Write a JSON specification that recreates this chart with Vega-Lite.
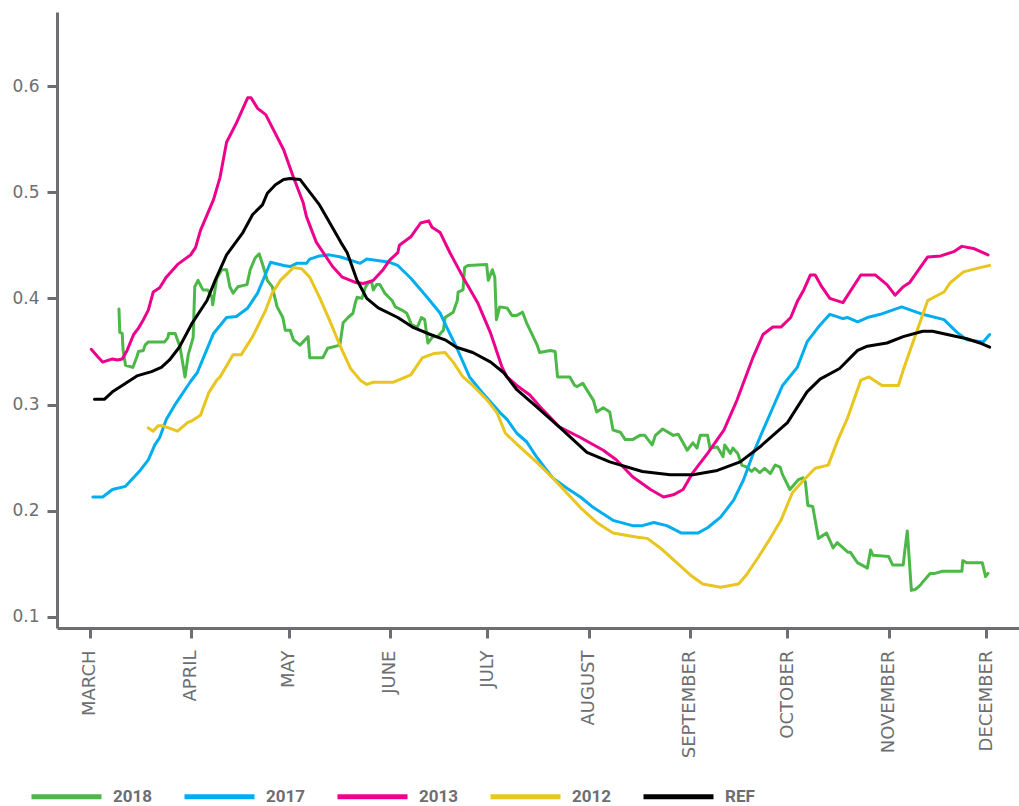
{
  "$schema": "https://vega.github.io/schema/vega-lite/v6.json",
  "width": 962,
  "height": 616,
  "autosize": "none",
  "padding": {"left": 57, "top": 12, "right": 0, "bottom": 178},
  "background": "white",
  "config": {"view": {"stroke": null}},
  "data": {"values": [
    {"series":"2018","date":"2018-03-10T00:00","value":0.390},
    {"series":"2018","date":"2018-03-10T06:00","value":0.368},
    {"series":"2018","date":"2018-03-11T00:00","value":0.367},
    {"series":"2018","date":"2018-03-11T06:00","value":0.352},
    {"series":"2018","date":"2018-03-12T00:00","value":0.337},
    {"series":"2018","date":"2018-03-14T06:00","value":0.335},
    {"series":"2018","date":"2018-03-15T12:00","value":0.345},
    {"series":"2018","date":"2018-03-16T00:00","value":0.350},
    {"series":"2018","date":"2018-03-17T12:00","value":0.351},
    {"series":"2018","date":"2018-03-18T00:00","value":0.356},
    {"series":"2018","date":"2018-03-19T00:00","value":0.359},
    {"series":"2018","date":"2018-03-24T00:00","value":0.359},
    {"series":"2018","date":"2018-03-25T00:00","value":0.363},
    {"series":"2018","date":"2018-03-25T06:00","value":0.367},
    {"series":"2018","date":"2018-03-27T06:00","value":0.367},
    {"series":"2018","date":"2018-03-28T18:00","value":0.354},
    {"series":"2018","date":"2018-03-30T06:00","value":0.326},
    {"series":"2018","date":"2018-03-31T06:00","value":0.347},
    {"series":"2018","date":"2018-04-01T18:00","value":0.363},
    {"series":"2018","date":"2018-04-02T06:00","value":0.411},
    {"series":"2018","date":"2018-04-03T06:00","value":0.417},
    {"series":"2018","date":"2018-04-04T18:00","value":0.408},
    {"series":"2018","date":"2018-04-06T06:00","value":0.408},
    {"series":"2018","date":"2018-04-07T12:00","value":0.401},
    {"series":"2018","date":"2018-04-07T18:00","value":0.394},
    {"series":"2018","date":"2018-04-09T00:00","value":0.419},
    {"series":"2018","date":"2018-04-10T12:00","value":0.427},
    {"series":"2018","date":"2018-04-12T00:00","value":0.427},
    {"series":"2018","date":"2018-04-12T12:00","value":0.419},
    {"series":"2018","date":"2018-04-13T00:00","value":0.411},
    {"series":"2018","date":"2018-04-14T00:00","value":0.405},
    {"series":"2018","date":"2018-04-15T12:00","value":0.411},
    {"series":"2018","date":"2018-04-18T06:00","value":0.413},
    {"series":"2018","date":"2018-04-19T06:00","value":0.427},
    {"series":"2018","date":"2018-04-20T18:00","value":0.438},
    {"series":"2018","date":"2018-04-22T00:00","value":0.442},
    {"series":"2018","date":"2018-04-23T06:00","value":0.430},
    {"series":"2018","date":"2018-04-24T12:00","value":0.417},
    {"series":"2018","date":"2018-04-26T00:00","value":0.411},
    {"series":"2018","date":"2018-04-27T12:00","value":0.392},
    {"series":"2018","date":"2018-04-29T06:00","value":0.382},
    {"series":"2018","date":"2018-04-30T00:00","value":0.370},
    {"series":"2018","date":"2018-05-01T12:00","value":0.370},
    {"series":"2018","date":"2018-05-02T12:00","value":0.361},
    {"series":"2018","date":"2018-05-04T12:00","value":0.356},
    {"series":"2018","date":"2018-05-07T00:00","value":0.364},
    {"series":"2018","date":"2018-05-07T12:00","value":0.344},
    {"series":"2018","date":"2018-05-11T12:00","value":0.344},
    {"series":"2018","date":"2018-05-13T00:00","value":0.353},
    {"series":"2018","date":"2018-05-16T18:00","value":0.356},
    {"series":"2018","date":"2018-05-17T18:00","value":0.377},
    {"series":"2018","date":"2018-05-19T06:00","value":0.382},
    {"series":"2018","date":"2018-05-20T18:00","value":0.386},
    {"series":"2018","date":"2018-05-21T12:00","value":0.396},
    {"series":"2018","date":"2018-05-22T00:00","value":0.401},
    {"series":"2018","date":"2018-05-23T12:00","value":0.400},
    {"series":"2018","date":"2018-05-24T12:00","value":0.410},
    {"series":"2018","date":"2018-05-25T12:00","value":0.415},
    {"series":"2018","date":"2018-05-26T12:00","value":0.415},
    {"series":"2018","date":"2018-05-27T00:00","value":0.408},
    {"series":"2018","date":"2018-05-28T00:00","value":0.413},
    {"series":"2018","date":"2018-05-29T00:00","value":0.413},
    {"series":"2018","date":"2018-05-30T12:00","value":0.405},
    {"series":"2018","date":"2018-06-01T18:00","value":0.398},
    {"series":"2018","date":"2018-06-02T18:00","value":0.392},
    {"series":"2018","date":"2018-06-04T18:00","value":0.389},
    {"series":"2018","date":"2018-06-06T06:00","value":0.386},
    {"series":"2018","date":"2018-06-07T18:00","value":0.375},
    {"series":"2018","date":"2018-06-09T12:00","value":0.373},
    {"series":"2018","date":"2018-06-10T18:00","value":0.382},
    {"series":"2018","date":"2018-06-11T18:00","value":0.380},
    {"series":"2018","date":"2018-06-12T18:00","value":0.358},
    {"series":"2018","date":"2018-06-14T06:00","value":0.364},
    {"series":"2018","date":"2018-06-15T18:00","value":0.364},
    {"series":"2018","date":"2018-06-17T12:00","value":0.370},
    {"series":"2018","date":"2018-06-18T00:00","value":0.382},
    {"series":"2018","date":"2018-06-20T12:00","value":0.387},
    {"series":"2018","date":"2018-06-21T18:00","value":0.398},
    {"series":"2018","date":"2018-06-22T00:00","value":0.406},
    {"series":"2018","date":"2018-06-23T12:00","value":0.408},
    {"series":"2018","date":"2018-06-24T00:00","value":0.429},
    {"series":"2018","date":"2018-06-25T00:00","value":0.431},
    {"series":"2018","date":"2018-06-30T18:00","value":0.432},
    {"series":"2018","date":"2018-07-01T06:00","value":0.417},
    {"series":"2018","date":"2018-07-02T12:00","value":0.427},
    {"series":"2018","date":"2018-07-03T06:00","value":0.420},
    {"series":"2018","date":"2018-07-03T18:00","value":0.380},
    {"series":"2018","date":"2018-07-04T18:00","value":0.392},
    {"series":"2018","date":"2018-07-07T00:00","value":0.391},
    {"series":"2018","date":"2018-07-08T12:00","value":0.384},
    {"series":"2018","date":"2018-07-10T00:00","value":0.384},
    {"series":"2018","date":"2018-07-11T18:00","value":0.387},
    {"series":"2018","date":"2018-07-13T00:00","value":0.377},
    {"series":"2018","date":"2018-07-16T06:00","value":0.356},
    {"series":"2018","date":"2018-07-17T00:00","value":0.349},
    {"series":"2018","date":"2018-07-20T06:00","value":0.351},
    {"series":"2018","date":"2018-07-21T18:00","value":0.350},
    {"series":"2018","date":"2018-07-22T12:00","value":0.326},
    {"series":"2018","date":"2018-07-26T06:00","value":0.326},
    {"series":"2018","date":"2018-07-27T18:00","value":0.318},
    {"series":"2018","date":"2018-07-28T12:00","value":0.317},
    {"series":"2018","date":"2018-07-30T06:00","value":0.320},
    {"series":"2018","date":"2018-08-02T12:00","value":0.304},
    {"series":"2018","date":"2018-08-03T12:00","value":0.293},
    {"series":"2018","date":"2018-08-05T12:00","value":0.297},
    {"series":"2018","date":"2018-08-07T12:00","value":0.293},
    {"series":"2018","date":"2018-08-08T12:00","value":0.276},
    {"series":"2018","date":"2018-08-10T18:00","value":0.274},
    {"series":"2018","date":"2018-08-12T06:00","value":0.267},
    {"series":"2018","date":"2018-08-14T12:00","value":0.267},
    {"series":"2018","date":"2018-08-16T18:00","value":0.271},
    {"series":"2018","date":"2018-08-18T06:00","value":0.271},
    {"series":"2018","date":"2018-08-20T12:00","value":0.262},
    {"series":"2018","date":"2018-08-21T12:00","value":0.271},
    {"series":"2018","date":"2018-08-23T18:00","value":0.277},
    {"series":"2018","date":"2018-08-27T00:00","value":0.271},
    {"series":"2018","date":"2018-08-28T12:00","value":0.272},
    {"series":"2018","date":"2018-08-30T00:00","value":0.264},
    {"series":"2018","date":"2018-08-31T06:00","value":0.257},
    {"series":"2018","date":"2018-09-02T00:00","value":0.264},
    {"series":"2018","date":"2018-09-03T06:00","value":0.259},
    {"series":"2018","date":"2018-09-04T06:00","value":0.271},
    {"series":"2018","date":"2018-09-06T12:00","value":0.271},
    {"series":"2018","date":"2018-09-07T06:00","value":0.259},
    {"series":"2018","date":"2018-09-09T12:00","value":0.260},
    {"series":"2018","date":"2018-09-11T06:00","value":0.251},
    {"series":"2018","date":"2018-09-11T18:00","value":0.262},
    {"series":"2018","date":"2018-09-13T12:00","value":0.254},
    {"series":"2018","date":"2018-09-14T06:00","value":0.259},
    {"series":"2018","date":"2018-09-15T18:00","value":0.254},
    {"series":"2018","date":"2018-09-17T00:00","value":0.243},
    {"series":"2018","date":"2018-09-18T12:00","value":0.241},
    {"series":"2018","date":"2018-09-20T00:00","value":0.237},
    {"series":"2018","date":"2018-09-21T00:00","value":0.240},
    {"series":"2018","date":"2018-09-22T12:00","value":0.236},
    {"series":"2018","date":"2018-09-24T00:00","value":0.240},
    {"series":"2018","date":"2018-09-25T18:00","value":0.235},
    {"series":"2018","date":"2018-09-27T06:00","value":0.243},
    {"series":"2018","date":"2018-09-28T18:00","value":0.241},
    {"series":"2018","date":"2018-09-29T12:00","value":0.234},
    {"series":"2018","date":"2018-10-01T18:00","value":0.220},
    {"series":"2018","date":"2018-10-04T06:00","value":0.229},
    {"series":"2018","date":"2018-10-05T18:00","value":0.231},
    {"series":"2018","date":"2018-10-06T12:00","value":0.227},
    {"series":"2018","date":"2018-10-07T06:00","value":0.205},
    {"series":"2018","date":"2018-10-08T18:00","value":0.204},
    {"series":"2018","date":"2018-10-10T12:00","value":0.174},
    {"series":"2018","date":"2018-10-13T00:00","value":0.179},
    {"series":"2018","date":"2018-10-15T00:00","value":0.165},
    {"series":"2018","date":"2018-10-16T06:00","value":0.170},
    {"series":"2018","date":"2018-10-19T12:00","value":0.161},
    {"series":"2018","date":"2018-10-20T06:00","value":0.161},
    {"series":"2018","date":"2018-10-22T12:00","value":0.151},
    {"series":"2018","date":"2018-10-23T18:00","value":0.149},
    {"series":"2018","date":"2018-10-25T12:00","value":0.146},
    {"series":"2018","date":"2018-10-26T12:00","value":0.163},
    {"series":"2018","date":"2018-10-27T06:00","value":0.158},
    {"series":"2018","date":"2018-11-01T00:00","value":0.157},
    {"series":"2018","date":"2018-11-02T06:00","value":0.149},
    {"series":"2018","date":"2018-11-05T12:00","value":0.149},
    {"series":"2018","date":"2018-11-06T00:00","value":0.163},
    {"series":"2018","date":"2018-11-06T18:00","value":0.181},
    {"series":"2018","date":"2018-11-08T00:00","value":0.125},
    {"series":"2018","date":"2018-11-09T06:00","value":0.126},
    {"series":"2018","date":"2018-11-10T18:00","value":0.130},
    {"series":"2018","date":"2018-11-11T12:00","value":0.133},
    {"series":"2018","date":"2018-11-13T18:00","value":0.141},
    {"series":"2018","date":"2018-11-15T06:00","value":0.141},
    {"series":"2018","date":"2018-11-17T12:00","value":0.143},
    {"series":"2018","date":"2018-11-23T12:00","value":0.143},
    {"series":"2018","date":"2018-11-23T18:00","value":0.153},
    {"series":"2018","date":"2018-11-25T00:00","value":0.151},
    {"series":"2018","date":"2018-11-29T18:00","value":0.151},
    {"series":"2018","date":"2018-11-30T18:00","value":0.138},
    {"series":"2018","date":"2018-12-01T12:00","value":0.141},

    {"series":"2017","date":"2018-03-02T00:00","value":0.213},
    {"series":"2017","date":"2018-03-05T00:00","value":0.213},
    {"series":"2017","date":"2018-03-08T00:00","value":0.220},
    {"series":"2017","date":"2018-03-12T00:00","value":0.223},
    {"series":"2017","date":"2018-03-16T12:00","value":0.238},
    {"series":"2017","date":"2018-03-19T00:00","value":0.248},
    {"series":"2017","date":"2018-03-21T00:00","value":0.262},
    {"series":"2017","date":"2018-03-22T12:00","value":0.269},
    {"series":"2017","date":"2018-03-24T12:00","value":0.286},
    {"series":"2017","date":"2018-03-27T00:00","value":0.299},
    {"series":"2017","date":"2018-04-01T00:00","value":0.322},
    {"series":"2017","date":"2018-04-03T00:00","value":0.330},
    {"series":"2017","date":"2018-04-08T00:00","value":0.367},
    {"series":"2017","date":"2018-04-12T00:00","value":0.382},
    {"series":"2017","date":"2018-04-15T00:00","value":0.383},
    {"series":"2017","date":"2018-04-18T12:00","value":0.391},
    {"series":"2017","date":"2018-04-21T12:00","value":0.405},
    {"series":"2017","date":"2018-04-25T12:00","value":0.434},
    {"series":"2017","date":"2018-04-29T12:00","value":0.431},
    {"series":"2017","date":"2018-05-01T12:00","value":0.430},
    {"series":"2017","date":"2018-05-03T12:00","value":0.433},
    {"series":"2017","date":"2018-05-06T12:00","value":0.433},
    {"series":"2017","date":"2018-05-07T12:00","value":0.437},
    {"series":"2017","date":"2018-05-10T12:00","value":0.440},
    {"series":"2017","date":"2018-05-13T12:00","value":0.441},
    {"series":"2017","date":"2018-05-17T00:00","value":0.439},
    {"series":"2017","date":"2018-05-23T00:00","value":0.433},
    {"series":"2017","date":"2018-05-25T00:00","value":0.437},
    {"series":"2017","date":"2018-06-01T00:00","value":0.434},
    {"series":"2017","date":"2018-06-03T12:00","value":0.431},
    {"series":"2017","date":"2018-06-07T12:00","value":0.419},
    {"series":"2017","date":"2018-06-12T12:00","value":0.401},
    {"series":"2017","date":"2018-06-16T12:00","value":0.386},
    {"series":"2017","date":"2018-06-18T12:00","value":0.373},
    {"series":"2017","date":"2018-06-21T12:00","value":0.354},
    {"series":"2017","date":"2018-06-25T12:00","value":0.326},
    {"series":"2017","date":"2018-06-29T12:00","value":0.311},
    {"series":"2017","date":"2018-07-05T00:00","value":0.292},
    {"series":"2017","date":"2018-07-07T00:00","value":0.286},
    {"series":"2017","date":"2018-07-10T00:00","value":0.273},
    {"series":"2017","date":"2018-07-13T00:00","value":0.265},
    {"series":"2017","date":"2018-07-16T00:00","value":0.251},
    {"series":"2017","date":"2018-07-21T00:00","value":0.231},
    {"series":"2017","date":"2018-07-25T12:00","value":0.221},
    {"series":"2017","date":"2018-07-29T12:00","value":0.213},
    {"series":"2017","date":"2018-08-02T12:00","value":0.203},
    {"series":"2017","date":"2018-08-08T12:00","value":0.191},
    {"series":"2017","date":"2018-08-14T12:00","value":0.186},
    {"series":"2017","date":"2018-08-17T12:00","value":0.186},
    {"series":"2017","date":"2018-08-21T00:00","value":0.189},
    {"series":"2017","date":"2018-08-25T00:00","value":0.186},
    {"series":"2017","date":"2018-08-29T12:00","value":0.179},
    {"series":"2017","date":"2018-09-03T12:00","value":0.179},
    {"series":"2017","date":"2018-09-06T12:00","value":0.184},
    {"series":"2017","date":"2018-09-10T12:00","value":0.194},
    {"series":"2017","date":"2018-09-14T12:00","value":0.210},
    {"series":"2017","date":"2018-09-17T12:00","value":0.229},
    {"series":"2017","date":"2018-09-20T12:00","value":0.254},
    {"series":"2017","date":"2018-09-23T12:00","value":0.276},
    {"series":"2017","date":"2018-09-26T12:00","value":0.297},
    {"series":"2017","date":"2018-09-29T12:00","value":0.318},
    {"series":"2017","date":"2018-10-04T00:00","value":0.335},
    {"series":"2017","date":"2018-10-07T00:00","value":0.359},
    {"series":"2017","date":"2018-10-11T00:00","value":0.375},
    {"series":"2017","date":"2018-10-14T00:00","value":0.385},
    {"series":"2017","date":"2018-10-15T00:00","value":0.384},
    {"series":"2017","date":"2018-10-18T00:00","value":0.381},
    {"series":"2017","date":"2018-10-19T12:00","value":0.382},
    {"series":"2017","date":"2018-10-22T12:00","value":0.378},
    {"series":"2017","date":"2018-10-25T12:00","value":0.382},
    {"series":"2017","date":"2018-10-29T12:00","value":0.385},
    {"series":"2017","date":"2018-11-05T00:00","value":0.392},
    {"series":"2017","date":"2018-11-11T12:00","value":0.385},
    {"series":"2017","date":"2018-11-18T00:00","value":0.380},
    {"series":"2017","date":"2018-11-22T00:00","value":0.368},
    {"series":"2017","date":"2018-11-25T00:00","value":0.361},
    {"series":"2017","date":"2018-11-30T00:00","value":0.359},
    {"series":"2017","date":"2018-12-02T00:00","value":0.366},

    {"series":"2013","date":"2018-03-01T12:00","value":0.352},
    {"series":"2013","date":"2018-03-03T12:00","value":0.345},
    {"series":"2013","date":"2018-03-05T00:00","value":0.340},
    {"series":"2013","date":"2018-03-08T00:00","value":0.343},
    {"series":"2013","date":"2018-03-09T12:00","value":0.342},
    {"series":"2013","date":"2018-03-11T00:00","value":0.343},
    {"series":"2013","date":"2018-03-12T12:00","value":0.351},
    {"series":"2013","date":"2018-03-14T12:00","value":0.366},
    {"series":"2013","date":"2018-03-16T00:00","value":0.372},
    {"series":"2013","date":"2018-03-17T12:00","value":0.380},
    {"series":"2013","date":"2018-03-19T00:00","value":0.389},
    {"series":"2013","date":"2018-03-20T12:00","value":0.406},
    {"series":"2013","date":"2018-03-22T12:00","value":0.410},
    {"series":"2013","date":"2018-03-24T12:00","value":0.420},
    {"series":"2013","date":"2018-03-28T00:00","value":0.432},
    {"series":"2013","date":"2018-04-01T00:00","value":0.441},
    {"series":"2013","date":"2018-04-02T12:00","value":0.448},
    {"series":"2013","date":"2018-04-04T00:00","value":0.464},
    {"series":"2013","date":"2018-04-08T00:00","value":0.493},
    {"series":"2013","date":"2018-04-10T00:00","value":0.514},
    {"series":"2013","date":"2018-04-12T00:00","value":0.547},
    {"series":"2013","date":"2018-04-15T00:00","value":0.565},
    {"series":"2013","date":"2018-04-18T12:00","value":0.589},
    {"series":"2013","date":"2018-04-19T12:00","value":0.589},
    {"series":"2013","date":"2018-04-21T12:00","value":0.579},
    {"series":"2013","date":"2018-04-24T00:00","value":0.573},
    {"series":"2013","date":"2018-04-26T00:00","value":0.561},
    {"series":"2013","date":"2018-04-29T12:00","value":0.540},
    {"series":"2013","date":"2018-05-02T12:00","value":0.514},
    {"series":"2013","date":"2018-05-05T12:00","value":0.490},
    {"series":"2013","date":"2018-05-06T12:00","value":0.477},
    {"series":"2013","date":"2018-05-09T12:00","value":0.453},
    {"series":"2013","date":"2018-05-14T12:00","value":0.430},
    {"series":"2013","date":"2018-05-17T12:00","value":0.420},
    {"series":"2013","date":"2018-05-21T12:00","value":0.415},
    {"series":"2013","date":"2018-05-24T00:00","value":0.414},
    {"series":"2013","date":"2018-05-27T00:00","value":0.417},
    {"series":"2013","date":"2018-05-30T00:00","value":0.427},
    {"series":"2013","date":"2018-06-01T00:00","value":0.436},
    {"series":"2013","date":"2018-06-03T12:00","value":0.443},
    {"series":"2013","date":"2018-06-04T00:00","value":0.450},
    {"series":"2013","date":"2018-06-07T12:00","value":0.458},
    {"series":"2013","date":"2018-06-10T12:00","value":0.471},
    {"series":"2013","date":"2018-06-13T00:00","value":0.473},
    {"series":"2013","date":"2018-06-14T00:00","value":0.467},
    {"series":"2013","date":"2018-06-16T12:00","value":0.462},
    {"series":"2013","date":"2018-06-19T12:00","value":0.443},
    {"series":"2013","date":"2018-06-23T12:00","value":0.420},
    {"series":"2013","date":"2018-06-28T00:00","value":0.396},
    {"series":"2013","date":"2018-07-02T00:00","value":0.367},
    {"series":"2013","date":"2018-07-05T12:00","value":0.335},
    {"series":"2013","date":"2018-07-07T00:00","value":0.326},
    {"series":"2013","date":"2018-07-10T00:00","value":0.318},
    {"series":"2013","date":"2018-07-14T00:00","value":0.309},
    {"series":"2013","date":"2018-07-18T00:00","value":0.295},
    {"series":"2013","date":"2018-07-23T00:00","value":0.279},
    {"series":"2013","date":"2018-07-29T12:00","value":0.269},
    {"series":"2013","date":"2018-08-05T12:00","value":0.257},
    {"series":"2013","date":"2018-08-09T12:00","value":0.248},
    {"series":"2013","date":"2018-08-14T12:00","value":0.232},
    {"series":"2013","date":"2018-08-20T00:00","value":0.220},
    {"series":"2013","date":"2018-08-24T00:00","value":0.213},
    {"series":"2013","date":"2018-08-27T00:00","value":0.215},
    {"series":"2013","date":"2018-08-30T00:00","value":0.220},
    {"series":"2013","date":"2018-09-02T00:00","value":0.236},
    {"series":"2013","date":"2018-09-06T12:00","value":0.254},
    {"series":"2013","date":"2018-09-11T12:00","value":0.276},
    {"series":"2013","date":"2018-09-15T12:00","value":0.304},
    {"series":"2013","date":"2018-09-20T12:00","value":0.345},
    {"series":"2013","date":"2018-09-23T12:00","value":0.366},
    {"series":"2013","date":"2018-09-26T12:00","value":0.373},
    {"series":"2013","date":"2018-09-29T00:00","value":0.373},
    {"series":"2013","date":"2018-10-02T00:00","value":0.382},
    {"series":"2013","date":"2018-10-04T00:00","value":0.397},
    {"series":"2013","date":"2018-10-06T00:00","value":0.408},
    {"series":"2013","date":"2018-10-08T00:00","value":0.422},
    {"series":"2013","date":"2018-10-09T12:00","value":0.422},
    {"series":"2013","date":"2018-10-11T12:00","value":0.411},
    {"series":"2013","date":"2018-10-14T00:00","value":0.400},
    {"series":"2013","date":"2018-10-18T00:00","value":0.396},
    {"series":"2013","date":"2018-10-23T12:00","value":0.422},
    {"series":"2013","date":"2018-10-28T00:00","value":0.422},
    {"series":"2013","date":"2018-10-31T12:00","value":0.413},
    {"series":"2013","date":"2018-11-03T00:00","value":0.403},
    {"series":"2013","date":"2018-11-05T12:00","value":0.411},
    {"series":"2013","date":"2018-11-07T12:00","value":0.415},
    {"series":"2013","date":"2018-11-13T00:00","value":0.439},
    {"series":"2013","date":"2018-11-17T00:00","value":0.440},
    {"series":"2013","date":"2018-11-21T00:00","value":0.444},
    {"series":"2013","date":"2018-11-23T12:00","value":0.449},
    {"series":"2013","date":"2018-11-27T00:00","value":0.447},
    {"series":"2013","date":"2018-12-01T12:00","value":0.441},

    {"series":"2012","date":"2018-03-19T00:00","value":0.278},
    {"series":"2012","date":"2018-03-20T12:00","value":0.275},
    {"series":"2012","date":"2018-03-22T00:00","value":0.280},
    {"series":"2012","date":"2018-03-23T12:00","value":0.280},
    {"series":"2012","date":"2018-03-28T00:00","value":0.275},
    {"series":"2012","date":"2018-03-31T00:00","value":0.283},
    {"series":"2012","date":"2018-04-01T12:00","value":0.285},
    {"series":"2012","date":"2018-04-04T00:00","value":0.290},
    {"series":"2012","date":"2018-04-06T12:00","value":0.311},
    {"series":"2012","date":"2018-04-09T00:00","value":0.323},
    {"series":"2012","date":"2018-04-10T00:00","value":0.326},
    {"series":"2012","date":"2018-04-14T00:00","value":0.347},
    {"series":"2012","date":"2018-04-16T12:00","value":0.347},
    {"series":"2012","date":"2018-04-20T00:00","value":0.364},
    {"series":"2012","date":"2018-04-24T00:00","value":0.389},
    {"series":"2012","date":"2018-04-26T00:00","value":0.405},
    {"series":"2012","date":"2018-04-28T12:00","value":0.417},
    {"series":"2012","date":"2018-05-02T12:00","value":0.429},
    {"series":"2012","date":"2018-05-05T00:00","value":0.428},
    {"series":"2012","date":"2018-05-07T12:00","value":0.420},
    {"series":"2012","date":"2018-05-10T12:00","value":0.401},
    {"series":"2012","date":"2018-05-13T12:00","value":0.380},
    {"series":"2012","date":"2018-05-17T00:00","value":0.354},
    {"series":"2012","date":"2018-05-20T00:00","value":0.334},
    {"series":"2012","date":"2018-05-23T00:00","value":0.323},
    {"series":"2012","date":"2018-05-25T00:00","value":0.319},
    {"series":"2012","date":"2018-05-27T00:00","value":0.321},
    {"series":"2012","date":"2018-06-02T00:00","value":0.321},
    {"series":"2012","date":"2018-06-07T12:00","value":0.328},
    {"series":"2012","date":"2018-06-11T00:00","value":0.344},
    {"series":"2012","date":"2018-06-14T12:00","value":0.348},
    {"series":"2012","date":"2018-06-18T00:00","value":0.349},
    {"series":"2012","date":"2018-06-20T12:00","value":0.340},
    {"series":"2012","date":"2018-06-23T12:00","value":0.326},
    {"series":"2012","date":"2018-06-26T12:00","value":0.318},
    {"series":"2012","date":"2018-07-01T00:00","value":0.304},
    {"series":"2012","date":"2018-07-04T00:00","value":0.292},
    {"series":"2012","date":"2018-07-06T12:00","value":0.273},
    {"series":"2012","date":"2018-07-11T00:00","value":0.260},
    {"series":"2012","date":"2018-07-16T00:00","value":0.246},
    {"series":"2012","date":"2018-07-21T00:00","value":0.231},
    {"series":"2012","date":"2018-07-26T12:00","value":0.213},
    {"series":"2012","date":"2018-07-29T12:00","value":0.203},
    {"series":"2012","date":"2018-08-03T12:00","value":0.189},
    {"series":"2012","date":"2018-08-08T12:00","value":0.179},
    {"series":"2012","date":"2018-08-16T00:00","value":0.175},
    {"series":"2012","date":"2018-08-19T00:00","value":0.174},
    {"series":"2012","date":"2018-08-23T00:00","value":0.165},
    {"series":"2012","date":"2018-08-27T00:00","value":0.154},
    {"series":"2012","date":"2018-09-01T00:00","value":0.140},
    {"series":"2012","date":"2018-09-05T00:00","value":0.131},
    {"series":"2012","date":"2018-09-10T12:00","value":0.128},
    {"series":"2012","date":"2018-09-16T00:00","value":0.131},
    {"series":"2012","date":"2018-09-18T12:00","value":0.140},
    {"series":"2012","date":"2018-09-22T00:00","value":0.156},
    {"series":"2012","date":"2018-09-25T12:00","value":0.173},
    {"series":"2012","date":"2018-09-29T00:00","value":0.191},
    {"series":"2012","date":"2018-10-02T12:00","value":0.217},
    {"series":"2012","date":"2018-10-06T00:00","value":0.229},
    {"series":"2012","date":"2018-10-09T12:00","value":0.240},
    {"series":"2012","date":"2018-10-13T12:00","value":0.243},
    {"series":"2012","date":"2018-10-16T12:00","value":0.267},
    {"series":"2012","date":"2018-10-19T12:00","value":0.288},
    {"series":"2012","date":"2018-10-23T12:00","value":0.323},
    {"series":"2012","date":"2018-10-26T00:00","value":0.326},
    {"series":"2012","date":"2018-10-30T00:00","value":0.318},
    {"series":"2012","date":"2018-11-04T00:00","value":0.318},
    {"series":"2012","date":"2018-11-06T00:00","value":0.337},
    {"series":"2012","date":"2018-11-13T00:00","value":0.398},
    {"series":"2012","date":"2018-11-18T00:00","value":0.406},
    {"series":"2012","date":"2018-11-20T00:00","value":0.415},
    {"series":"2012","date":"2018-11-24T00:00","value":0.425},
    {"series":"2012","date":"2018-11-29T00:00","value":0.429},
    {"series":"2012","date":"2018-12-02T00:00","value":0.431},

    {"series":"REF","date":"2018-03-02T12:00","value":0.305},
    {"series":"REF","date":"2018-03-05T12:00","value":0.305},
    {"series":"REF","date":"2018-03-08T00:00","value":0.312},
    {"series":"REF","date":"2018-03-11T00:00","value":0.318},
    {"series":"REF","date":"2018-03-15T12:00","value":0.327},
    {"series":"REF","date":"2018-03-20T00:00","value":0.331},
    {"series":"REF","date":"2018-03-23T00:00","value":0.335},
    {"series":"REF","date":"2018-03-25T12:00","value":0.342},
    {"series":"REF","date":"2018-03-28T12:00","value":0.354},
    {"series":"REF","date":"2018-04-01T12:00","value":0.377},
    {"series":"REF","date":"2018-04-06T00:00","value":0.398},
    {"series":"REF","date":"2018-04-08T12:00","value":0.417},
    {"series":"REF","date":"2018-04-12T00:00","value":0.441},
    {"series":"REF","date":"2018-04-17T00:00","value":0.462},
    {"series":"REF","date":"2018-04-20T00:00","value":0.479},
    {"series":"REF","date":"2018-04-23T00:00","value":0.488},
    {"series":"REF","date":"2018-04-24T12:00","value":0.499},
    {"series":"REF","date":"2018-04-27T00:00","value":0.507},
    {"series":"REF","date":"2018-04-29T12:00","value":0.512},
    {"series":"REF","date":"2018-05-01T12:00","value":0.513},
    {"series":"REF","date":"2018-05-04T12:00","value":0.512},
    {"series":"REF","date":"2018-05-07T12:00","value":0.500},
    {"series":"REF","date":"2018-05-10T12:00","value":0.488},
    {"series":"REF","date":"2018-05-13T12:00","value":0.472},
    {"series":"REF","date":"2018-05-17T00:00","value":0.453},
    {"series":"REF","date":"2018-05-19T00:00","value":0.443},
    {"series":"REF","date":"2018-05-22T00:00","value":0.417},
    {"series":"REF","date":"2018-05-25T00:00","value":0.400},
    {"series":"REF","date":"2018-05-28T12:00","value":0.391},
    {"series":"REF","date":"2018-06-03T12:00","value":0.382},
    {"series":"REF","date":"2018-06-08T00:00","value":0.373},
    {"series":"REF","date":"2018-06-13T12:00","value":0.366},
    {"series":"REF","date":"2018-06-18T00:00","value":0.361},
    {"series":"REF","date":"2018-06-21T12:00","value":0.354},
    {"series":"REF","date":"2018-06-26T12:00","value":0.349},
    {"series":"REF","date":"2018-07-02T00:00","value":0.340},
    {"series":"REF","date":"2018-07-06T00:00","value":0.330},
    {"series":"REF","date":"2018-07-10T00:00","value":0.314},
    {"series":"REF","date":"2018-07-16T00:00","value":0.298},
    {"series":"REF","date":"2018-07-23T00:00","value":0.279},
    {"series":"REF","date":"2018-07-31T12:00","value":0.255},
    {"series":"REF","date":"2018-08-07T12:00","value":0.246},
    {"series":"REF","date":"2018-08-17T12:00","value":0.237},
    {"series":"REF","date":"2018-08-26T00:00","value":0.234},
    {"series":"REF","date":"2018-09-02T00:00","value":0.234},
    {"series":"REF","date":"2018-09-09T12:00","value":0.238},
    {"series":"REF","date":"2018-09-16T12:00","value":0.246},
    {"series":"REF","date":"2018-09-22T12:00","value":0.260},
    {"series":"REF","date":"2018-10-01T00:00","value":0.283},
    {"series":"REF","date":"2018-10-07T00:00","value":0.312},
    {"series":"REF","date":"2018-10-11T00:00","value":0.324},
    {"series":"REF","date":"2018-10-17T00:00","value":0.334},
    {"series":"REF","date":"2018-10-22T12:00","value":0.351},
    {"series":"REF","date":"2018-10-25T12:00","value":0.355},
    {"series":"REF","date":"2018-10-31T12:00","value":0.358},
    {"series":"REF","date":"2018-11-05T12:00","value":0.364},
    {"series":"REF","date":"2018-11-11T12:00","value":0.369},
    {"series":"REF","date":"2018-11-14T12:00","value":0.369},
    {"series":"REF","date":"2018-11-19T00:00","value":0.366},
    {"series":"REF","date":"2018-11-25T00:00","value":0.362},
    {"series":"REF","date":"2018-11-29T00:00","value":0.358},
    {"series":"REF","date":"2018-12-02T00:00","value":0.354}
  ]},
  "mark": {"type": "line", "strokeWidth": 3, "strokeJoin": "round", "strokeCap": "round"},
  "encoding": {
    "x": {
      "field": "date", "type": "temporal",
      "scale": {"domain": [{"year": 2018, "month": 2, "date": 19}, {"year": 2018, "month": 12, "date": 11}], "nice": false},
      "axis": {
        "title": null, "grid": false,
        "values": [
          {"year": 2018, "month": 3, "date": 1}, {"year": 2018, "month": 4, "date": 1},
          {"year": 2018, "month": 5, "date": 1}, {"year": 2018, "month": 6, "date": 1},
          {"year": 2018, "month": 7, "date": 1}, {"year": 2018, "month": 8, "date": 1},
          {"year": 2018, "month": 9, "date": 1}, {"year": 2018, "month": 10, "date": 1},
          {"year": 2018, "month": 11, "date": 1}, {"year": 2018, "month": 12, "date": 1}
        ],
        "labelExpr": "upper(timeFormat(datum.value, '%B'))",
        "labelAngle": -90, "labelAlign": "right", "labelBaseline": "middle",
        "labelFont": "DejaVu Sans", "labelFontSize": 18, "labelColor": "#6d6e71",
        "labelPadding": 12, "labelOverlap": false, "labelFlush": false,
        "domainColor": "#6d6e71", "domainWidth": 3,
        "tickColor": "#6d6e71", "tickWidth": 3, "tickSize": 10
      }
    },
    "y": {
      "field": "value", "type": "quantitative",
      "scale": {"domain": [0.0896, 0.6697], "nice": false, "zero": false},
      "axis": {
        "title": null, "grid": false,
        "values": [0.1, 0.2, 0.3, 0.4, 0.5, 0.6], "format": ".1f",
        "labelFont": "DejaVu Sans", "labelFontSize": 17, "labelColor": "#6d6e71",
        "labelPadding": 8,
        "domainColor": "#6d6e71", "domainWidth": 3,
        "tickColor": "#6d6e71", "tickWidth": 3, "tickSize": 10
      }
    },
    "color": {
      "field": "series", "type": "nominal",
      "scale": {"domain": ["2018", "2017", "2013", "2012", "REF"], "range": ["#4cb848", "#00aeef", "#ec008c", "#e8c51f", "#000000"]},
      "legend": {
        "title": null, "orient": "none", "direction": "horizontal",
        "legendX": -28, "legendY": 747,
        "symbolType": "stroke", "symbolSize": 4900, "symbolStrokeWidth": 5,
        "labelFont": "Roboto", "labelFontWeight": "bold", "labelFontSize": 17, "labelColor": "#6d6e71",
        "labelOffset": 9, "columnPadding": 21
      }
    }
  }
}
